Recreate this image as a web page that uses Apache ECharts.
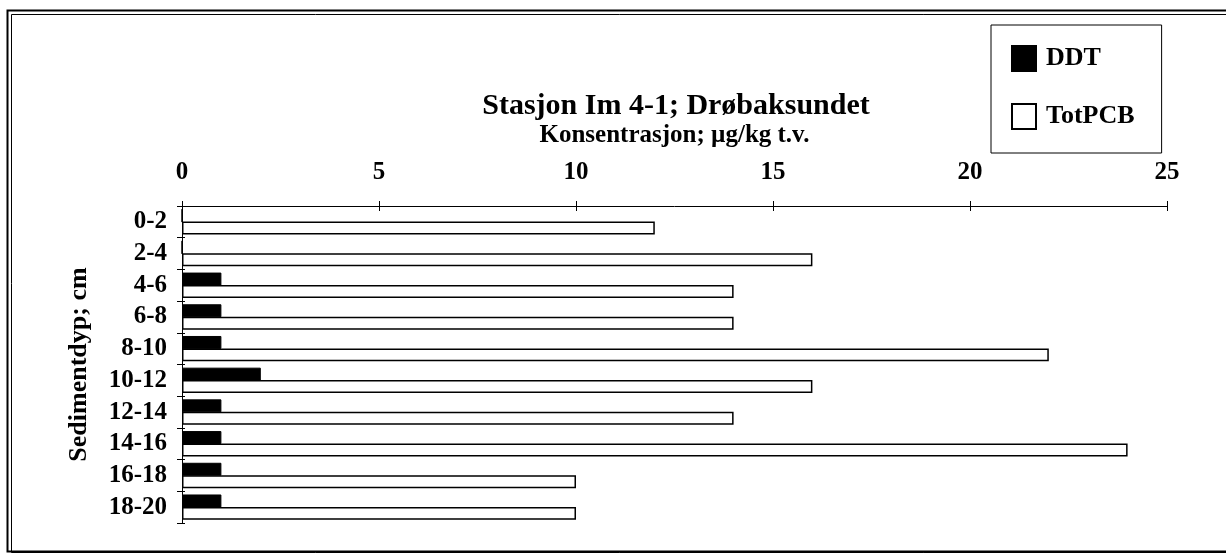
<!DOCTYPE html>
<html>
<head>
<meta charset="utf-8">
<script src="https://cdn.jsdelivr.net/npm/echarts@6/dist/echarts.min.js"></script>
<style>
  html, body { margin: 0; padding: 0; background: #fff; }
  #main { width: 1226px; height: 553px; }
</style>
</head>
<body>
<div id="main"></div>
<script>
// depth intervals, top to bottom
const depths = ['0-2', '2-4', '4-6', '6-8', '8-10', '10-12', '12-14', '14-16', '16-18', '18-20'];
const ddt = [0, 0, 1, 1, 1, 2, 1, 1, 1, 1];
const totPCB = [12, 16, 14, 14, 22, 16, 14, 24, 10, 10];
const xTicks = [0, 25, 5]; // min, max, interval

const serif = '"Liberation Serif", "Times New Roman", serif';

const chart = echarts.init(document.getElementById('main'));
chart.setOption({
    animation: false,
    backgroundColor: '#fff',
    textStyle: {fontFamily: serif, color: '#000'},
    title: {
        text: 'Stasjon Im 4-1; Drøbaksundet',
        left: 671,
        top: 86,
        textAlign: 'center',
        textStyle: {fontFamily: serif, fontWeight: 'bold', fontSize: 30, color: '#000'}
    },
    legend: {
        orient: 'vertical',
        left: 991,
        top: 25,
        padding: [20, 27, 23, 20],
        itemGap: 31,
        itemWidth: 24,
        itemHeight: 25,
        borderColor: '#000',
        borderWidth: 1,
        icon: 'rect',
        textStyle: {fontFamily: serif, fontWeight: 'bold', fontSize: 26, color: '#000', padding: [0, 0, 0, 5]},
        data: ['DDT', 'TotPCB']
    },
    grid: {left: 182, top: 206, right: 59, bottom: 30, containLabel: false},
    xAxis: [
        {
            type: 'value',
            position: 'top',
            min: xTicks[0],
            max: xTicks[1],
            interval: xTicks[2],
            name: 'Konsentrasjon; µg/kg t.v.',
            nameLocation: 'middle',
            nameGap: 58,
            nameTextStyle: {fontFamily: serif, fontWeight: 'bold', fontSize: 25, color: '#000'},
            axisLine: {show: true, lineStyle: {color: '#000', width: 1}},
            axisTick: {show: true, length: 5, lineStyle: {color: '#000'}},
            axisLabel: {margin: 21, fontFamily: serif, fontWeight: 'bold', fontSize: 25, color: '#000'},
            splitLine: {show: false}
        },
        {
            type: 'value',
            position: 'top',
            min: xTicks[0],
            max: xTicks[1],
            interval: xTicks[2],
            axisLine: {show: false},
            axisTick: {show: true, inside: true, length: 5, lineStyle: {color: '#000'}},
            axisLabel: {show: false},
            splitLine: {show: false}
        }
    ],
    yAxis: [
        {
            type: 'category',
            inverse: true,
            data: depths,
            name: 'Sedimentdyp; cm',
            nameLocation: 'middle',
            nameGap: 90,
            nameRotate: 90,
            nameTextStyle: {fontFamily: serif, fontWeight: 'bold', fontSize: 26, color: '#000'},
            axisLine: {show: true, lineStyle: {color: '#000', width: 1}},
            axisTick: {show: true, length: 5, lineStyle: {color: '#000'}},
            axisLabel: {interval: 0, margin: 15, fontFamily: serif, fontWeight: 'bold', fontSize: 25, color: '#000'},
            splitLine: {show: false}
        },
        {
            type: 'category',
            inverse: true,
            position: 'left',
            data: depths,
            axisLine: {show: false},
            axisTick: {show: true, inside: true, length: 3, lineStyle: {color: '#000'}},
            axisLabel: {show: false},
            splitLine: {show: false}
        }
    ],
    series: [
        {
            name: 'DDT',
            type: 'bar',
            data: ddt,
            barCategoryGap: '20%',
            barGap: '-4%',
            itemStyle: {color: '#000', borderColor: '#000', borderWidth: 1}
        },
        {
            name: 'TotPCB',
            type: 'bar',
            data: totPCB,
            barCategoryGap: '20%',
            barGap: '-4%',
            itemStyle: {color: '#fff', borderColor: '#000', borderWidth: 1.5}
        }
    ],
    graphic: [
        // double frame around the figure
        {type: 'rect', shape: {x: 7.5, y: 10.5, width: 1240, height: 541}, style: {fill: null, stroke: '#000', lineWidth: 2}, silent: true},
        {type: 'rect', shape: {x: 11.5, y: 14.5, width: 1240, height: 538}, style: {fill: null, stroke: '#000', lineWidth: 1}, silent: true}
    ]
});
</script>
</body>
</html>
